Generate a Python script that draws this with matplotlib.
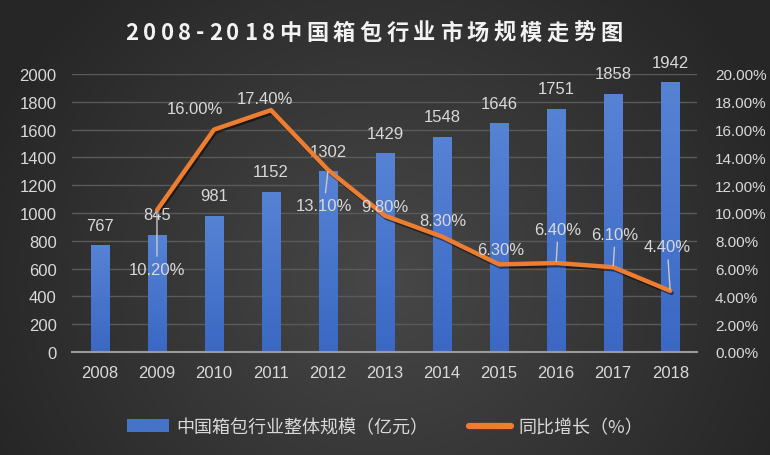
import numpy as np
import matplotlib
matplotlib.use('Agg')
import matplotlib.pyplot as plt
from matplotlib.patches import Patch
from matplotlib.lines import Line2D
import matplotlib.patheffects as pe

plt.rcParams['font.family'] = ['Liberation Sans', 'Noto Sans CJK SC', 'DejaVu Sans']

years = ['2008', '2009', '2010', '2011', '2012', '2013', '2014', '2015', '2016', '2017', '2018']
scale = [767, 845, 981, 1152, 1302, 1429, 1548, 1646, 1751, 1858, 1942]
growth = [None, 10.2, 16.0, 17.4, 13.1, 9.8, 8.3, 6.3, 6.4, 6.1, 4.4]
pct_labels = ['', '10.20%', '16.00%', '17.40%', '13.10%', '9.80%', '8.30%', '6.30%', '6.40%', '6.10%', '4.40%']
# label offsets in pixels and whether a leader line is drawn
pct_offsets = [None, (0, -59), (-19, 21), (-6, 12), (-4, -36), (0, 9), (1, 16), (2, 15), (2, 34), (2, 33), (-3, 44)]
pct_leader = [False, True, False, False, True, False, False, False, True, True, True]
title = '2008-2018中国箱包行业市场规模走势图'

txt = '#d9d9d9'
cjk = ['Noto Sans CJK SC', 'DejaVu Sans']
fig = plt.figure(figsize=(7.7, 4.56), dpi=100)

# radial gradient background
bg = fig.add_axes([0, 0, 1, 1], zorder=-10)
yy, xx = np.mgrid[0:456, 0:770]
r = np.sqrt(((xx - 385) / 430.0) ** 2 + ((yy - 280) / 400.0) ** 2)
v = np.clip(0.28 - 0.13 * r, 0.15, 0.28)
bg.imshow(np.dstack([v, v, v]), aspect='auto', extent=[0, 1, 0, 1])
bg.axis('off')

ax = fig.add_axes([72 / 770, 1 - 353 / 456, 625 / 770, 278 / 456])
ax.patch.set_alpha(0)
x = np.arange(len(years))
bars = ax.bar(x, scale, width=0.32, color='#4573c8', zorder=2)
# vertical gradient fill for bars
grad = np.linspace(0, 1, 256).reshape(-1, 1)
top_c = np.array([0x57, 0x83, 0xd5]) / 255
bot_c = np.array([0x3a, 0x68, 0xc3]) / 255
gimg = bot_c + (top_c - bot_c) * grad[..., None]
for b in bars:
    bx, by = b.get_x(), b.get_y()
    im = ax.imshow(gimg, extent=[bx, bx + b.get_width(), by, by + b.get_height()],
                   origin='lower', aspect='auto', zorder=2.1)
    im.set_clip_path(b)
for i, s in enumerate(scale):
    ax.annotate(str(s), (i, s), xytext=(0, 20), textcoords='offset pixels',
                ha='center', va='center', color=txt, fontsize=12, zorder=3)
ax.set_xlim(-0.49, 10.47)
ax.set_ylim(0, 2000)
ax.set_yticks(range(0, 2001, 200))
ax.yaxis.grid(True, color='#5a5a5a', lw=1)
ax.set_axisbelow(True)
ax.set_xticks(x)
ax.set_xticklabels(years)
for sp in ['top', 'left', 'right']:
    ax.spines[sp].set_visible(False)
ax.spines['bottom'].set_color('#9a9a9a')
ax.spines['bottom'].set_linewidth(1.5)
ax.tick_params(axis='both', length=0, colors=txt, labelsize=12)
ax.tick_params(axis='x', pad=9)
ax.tick_params(axis='y', pad=11)

ax2 = ax.twinx()
ax2.set_ylim(0, 20)
ax2.set_yticks(range(0, 21, 2))
ax2.set_yticklabels(['%.2f%%' % t for t in range(0, 21, 2)])
ax2.tick_params(axis='y', length=0, colors=txt, labelsize=11, pad=13)
for sp in ax2.spines.values():
    sp.set_visible(False)
gx = x[1:]
gy = growth[1:]
ax2.plot(gx, gy, color='#ed7d31', lw=3.2, solid_joinstyle='round', solid_capstyle='round', zorder=4,
         path_effects=[pe.SimpleLineShadow(offset=(1, -1.5), alpha=0.5), pe.Normal()])
for i in range(1, len(years)):
    dx, dy = pct_offsets[i]
    ap = None
    if pct_leader[i]:
        ap = dict(arrowstyle='-', color='#c8c8c8', lw=1, shrinkA=2, shrinkB=1)
    ax2.annotate(pct_labels[i], (i, growth[i]), xytext=(dx, dy), textcoords='offset pixels',
                 ha='center', va='center', color=txt, fontsize=12, arrowprops=ap, zorder=5)

# title with letter spacing
renderer = fig.canvas.get_renderer()
tprops = dict(color='#f2f2f2', fontsize=16, fontweight='bold', family=cjk, va='center', ha='left')
widths = []
for ch in title:
    t = fig.text(0, 0, ch, **tprops)
    widths.append(t.get_window_extent(renderer).width)
    t.remove()
spacing = 4.5
total = sum(widths) + spacing * (len(title) - 1)
cx = 374 - total / 2
ty = 456 - 33
for ch, w in zip(title, widths):
    fig.text(cx / 770, ty / 456, ch, **tprops)
    cx += w + spacing

handles = [Patch(facecolor='#4573c8', edgecolor='none'),
           Line2D([0], [0], color='#ed7d31', lw=4.5, solid_capstyle='round')]
labels = ['中国箱包行业整体规模（亿元）', '同比增长（%）']
leg = fig.legend(handles, labels, loc='center', bbox_to_anchor=(385 / 770, 1 - 428 / 456), ncol=2,
                 frameon=False, handlelength=2.3, handleheight=0.7, handletextpad=0.4,
                 columnspacing=2.3, prop={'family': cjk, 'size': 13})
for t in leg.get_texts():
    t.set_color(txt)

fig.savefig('out.png', dpi=100)
